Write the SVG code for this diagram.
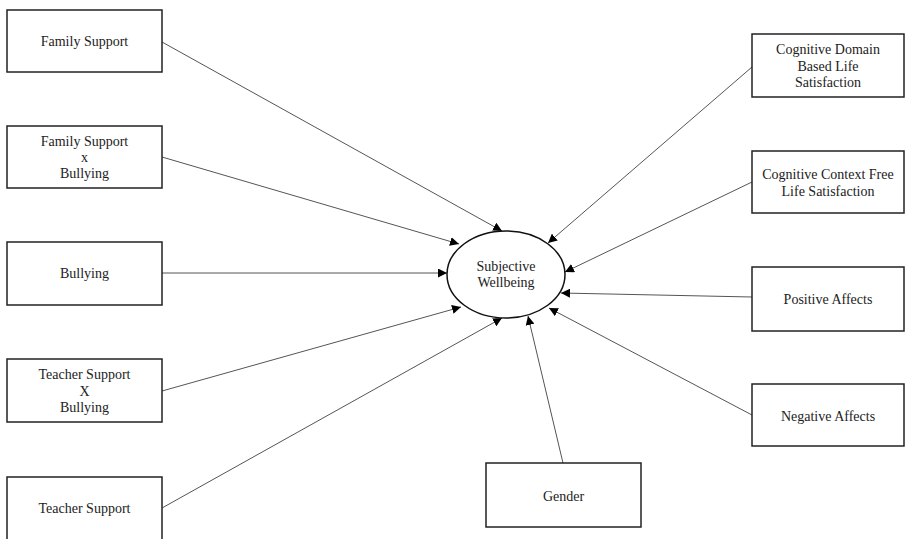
<svg xmlns="http://www.w3.org/2000/svg" width="905" height="539" viewBox="0 0 905 539">
<style>
.box{fill:#fff;stroke:#222;stroke-width:1.5}
.t{font-family:"Liberation Serif","Times New Roman",serif;font-size:14px;fill:#222;text-anchor:middle}
.c{stroke:#555;stroke-width:1;fill:none;marker-end:url(#ah)}
</style>
<defs>
<marker id="ah" viewBox="0 0 10 10" refX="10" refY="5" markerWidth="9" markerHeight="9" markerUnits="userSpaceOnUse" orient="auto">
<path d="M0,0 L10,5 L0,10 z" fill="#000"/>
</marker>
</defs>
<rect width="905" height="539" fill="#fff"/>
<g id="connectors">
<line class="c" x1="162" y1="42" x2="502" y2="231"/>
<line class="c" x1="162" y1="157" x2="459" y2="244"/>
<line class="c" x1="162" y1="273" x2="447" y2="273"/>
<line class="c" x1="162" y1="391" x2="461" y2="307"/>
<line class="c" x1="162" y1="508" x2="502" y2="318"/>
<line class="c" x1="563" y1="463" x2="528" y2="316"/>
<line class="c" x1="752" y1="67" x2="548" y2="243"/>
<line class="c" x1="752" y1="182" x2="565" y2="272"/>
<line class="c" x1="752" y1="297" x2="561" y2="293"/>
<line class="c" x1="752" y1="415" x2="549" y2="308"/>
</g>
<g id="family-support"><rect class="box" x="7" y="10" width="155" height="62"/><text class="t" x="84.5" y="46">Family Support</text></g>
<g id="family-support-x-bullying"><rect class="box" x="7" y="126" width="155" height="62"/><text class="t" x="84.5" y="146">Family Support</text><text class="t" x="84.5" y="162">x</text><text class="t" x="84.5" y="178">Bullying</text></g>
<g id="bullying"><rect class="box" x="7" y="242" width="155" height="63"/><text class="t" x="84.5" y="278">Bullying</text></g>
<g id="teacher-support-x-bullying"><rect class="box" x="7" y="359" width="155" height="63"/><text class="t" x="84.5" y="379">Teacher Support</text><text class="t" x="84.5" y="396">X</text><text class="t" x="84.5" y="412">Bullying</text></g>
<g id="teacher-support"><rect class="box" x="7" y="477" width="155" height="70"/><text class="t" x="84.5" y="513">Teacher Support</text></g>
<g id="subjective-wellbeing"><ellipse cx="506" cy="274.5" rx="59" ry="43.5" fill="#fff" stroke="#111" stroke-width="1.5"/><text class="t" x="506" y="271">Subjective</text><text class="t" x="506" y="287">Wellbeing</text></g>
<g id="gender"><rect class="box" x="486" y="463" width="155" height="64"/><text class="t" x="563.5" y="501">Gender</text></g>
<g id="cognitive-domain"><rect class="box" x="752" y="34" width="152" height="63"/><text class="t" x="828" y="54">Cognitive Domain</text><text class="t" x="828" y="71">Based Life</text><text class="t" x="828" y="87">Satisfaction</text></g>
<g id="cognitive-context"><rect class="box" x="752" y="151" width="152" height="62"/><text class="t" x="828" y="179">Cognitive Context Free</text><text class="t" x="828" y="196">Life Satisfaction</text></g>
<g id="positive-affects"><rect class="box" x="752" y="267" width="152" height="64"/><text class="t" x="828" y="304">Positive Affects</text></g>
<g id="negative-affects"><rect class="box" x="752" y="384" width="152" height="62"/><text class="t" x="828" y="421">Negative Affects</text></g>
</svg>
